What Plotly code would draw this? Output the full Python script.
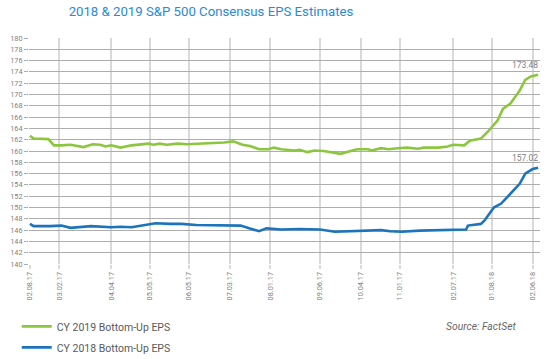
import plotly.graph_objects as go

# Trading-day index along the x axis (category positions), and EPS values
cy2019_days = [0, 2, 10, 13, 17, 22, 29, 34, 38, 41, 44, 49, 55, 60, 64, 67, 70, 74, 80, 85,
               92, 99, 105, 110, 115, 119, 124, 129, 132, 136, 143, 146, 150, 154, 159, 168,
               172, 177, 183, 185, 190, 194, 199, 204, 210, 213, 221, 226, 229, 235, 238, 244,
               248, 253, 256, 260, 263, 265, 268, 271, 275]
cy2019_eps = [162.7, 162.2, 162.1, 161.0, 161.0, 161.1, 160.7, 161.2, 161.1, 160.8, 161.0, 160.6,
              161.0, 161.1, 161.3, 161.1, 161.3, 161.1, 161.3, 161.2, 161.3, 161.4, 161.5, 161.7,
              161.1, 160.9, 160.3, 160.3, 160.6, 160.3, 160.1, 160.2, 159.8, 160.1, 160.0, 159.5,
              159.8, 160.3, 160.3, 160.1, 160.5, 160.3, 160.5, 160.6, 160.4, 160.6, 160.6, 160.8,
              161.1, 161.0, 161.8, 162.2, 163.5, 165.4, 167.5, 168.4, 169.8, 170.7, 172.6, 173.2,
              173.48]

cy2018_days = [0, 2, 11, 17, 22, 28, 33, 44, 49, 55, 63, 68, 76, 82, 90, 101, 114, 119, 124, 128,
               136, 146, 157, 165, 174, 184, 190, 195, 201, 211, 222, 230, 236, 237, 244, 246, 251,
               255, 260, 265, 268, 272, 275]
cy2018_eps = [147.1, 146.7, 146.7, 146.8, 146.4, 146.5, 146.7, 146.5, 146.6, 146.5, 146.9, 147.2,
              147.1, 147.1, 146.9, 146.9, 146.8, 146.3, 145.8, 146.3, 146.1, 146.2, 146.1, 145.7,
              145.8, 145.8, 146.0, 145.8, 145.7, 145.9, 146.0, 146.1, 146.1, 146.8, 147.1, 147.7,
              150.0, 150.7, 152.4, 154.2, 156.0, 156.8, 157.02]

tick_days = [0, 16, 44, 65, 86, 108, 130, 157, 179, 200, 229, 250, 272]
tick_labels = ["02.08.17", "03.02.17", "04.04.17", "05.05.17", "06.05.17", "07.03.17", "08.01.17",
               "09.06.17", "10.04.17", "11.01.17", "02.07.17", "01.08.18", "02.06.18"]
y_ticks = list(range(140, 181, 2))

GREEN = "#8cc63f"
BLUE = "#1c75bc"
GRAY_TXT = "#7f7f7f"
FONT = "Roboto"

fig = go.Figure()
fig.add_trace(go.Scatter(x=cy2019_days, y=cy2019_eps, mode="lines", name="CY 2019 Bottom-Up EPS",
                         line=dict(color=GREEN, width=2.6), legendgroup="a"))
fig.add_trace(go.Scatter(x=cy2018_days, y=cy2018_eps, mode="lines", name="CY 2018 Bottom-Up EPS",
                         line=dict(color=BLUE, width=2.6), legendgroup="b"))

fig.add_annotation(x=cy2019_days[-1], y=cy2019_eps[-1], text=f"{cy2019_eps[-1]:.2f}",
                   showarrow=False, xanchor="right", yanchor="bottom", yshift=3, xshift=2,
                   font=dict(family=FONT, size=8.5, color=GRAY_TXT))
fig.add_annotation(x=cy2018_days[-1], y=cy2018_eps[-1], text=f"{cy2018_eps[-1]:.2f}",
                   showarrow=False, xanchor="right", yanchor="bottom", yshift=3, xshift=2,
                   font=dict(family=FONT, size=8.5, color=GRAY_TXT))

fig.add_annotation(xref="paper", yref="paper", x=0.957, y=-0.275, text="<i>Source: FactSet</i>",
                   showarrow=False, xanchor="right", yanchor="middle",
                   font=dict(family=FONT, size=10.3, color="#666666"))

fig.update_layout(
    width=549, height=359,
    margin=dict(l=29, r=9, t=37.5, b=95, autoexpand=False),
    paper_bgcolor="white", plot_bgcolor="white",
    title=dict(text="2018 & 2019 S&P 500 Consensus EPS Estimates", xref="container", yref="container",
               x=0.125, xanchor="left", y=0.967, yanchor="middle",
               font=dict(family=FONT, size=13.2, color="#2a8ad4")),
    font=dict(family=FONT, color=GRAY_TXT),
    showlegend=True,
    legend=dict(orientation="v", x=-0.024, xanchor="left", y=-0.212, yanchor="top",
                font=dict(family=FONT, size=10.5, color="#595959"), tracegroupgap=2,
                itemwidth=30, bgcolor="rgba(0,0,0,0)"),
    xaxis=dict(range=[-0.5, 276], tickmode="array", tickvals=tick_days, ticktext=tick_labels,
               tickangle=-90, tickfont=dict(family=FONT, size=7.3, color=GRAY_TXT),
               showgrid=True, gridcolor="#d9d9d9", gridwidth=1.5, automargin=False,
               ticks="outside", ticklen=4, tickcolor="#d9d9d9", tickwidth=1.5,
               showline=False, zeroline=False),
    yaxis=dict(range=[140, 180], tickmode="array", tickvals=y_ticks,
               tickfont=dict(family=FONT, size=7.3, color=GRAY_TXT), automargin=False,
               showgrid=True, gridcolor="#adadad", gridwidth=1.2,
               ticks="outside", ticklen=4, tickcolor="#adadad",
               showline=False, zeroline=False),
)

fig.write_html("out.html", config={"displayModeBar": False},
               post_script="document.body.style.margin='0';")
